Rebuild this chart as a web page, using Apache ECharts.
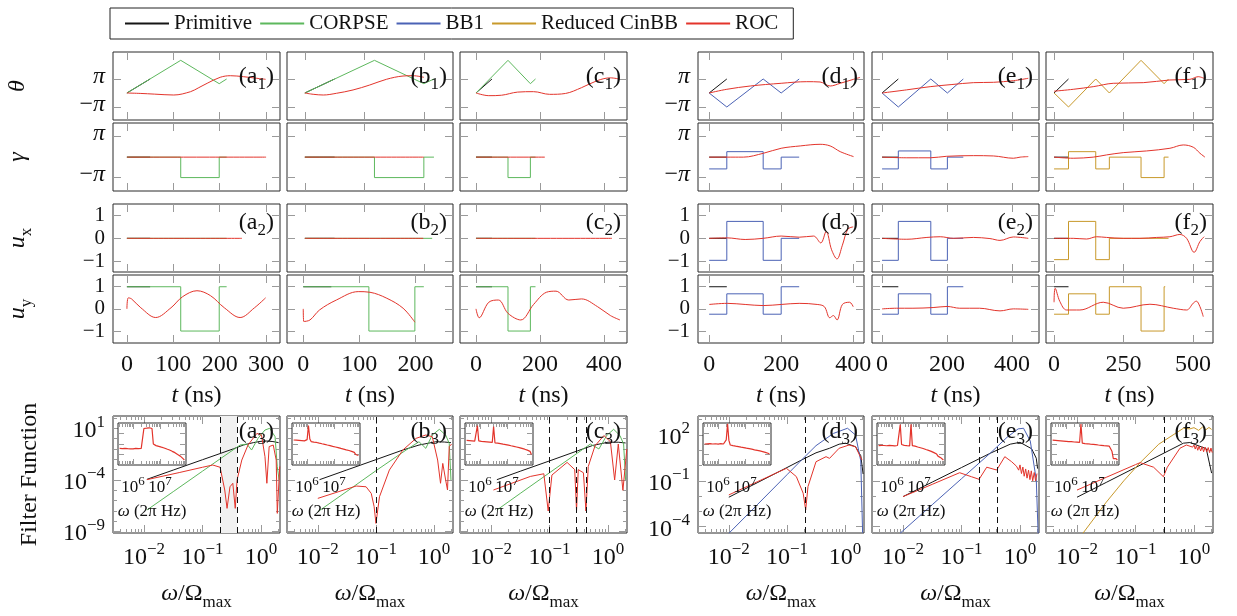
<!DOCTYPE html>
<html>
<head>
<meta charset="utf-8">
<script src="https://cdn.jsdelivr.net/npm/echarts@6/dist/echarts.min.js"></script>
<style>
html, body { margin: 0; padding: 0; background: #fff; }
#main { width: 1237px; height: 616px; }
</style>
</head>
<body>
<div id="main"></div>
<script>
const PI = Math.PI;

// ---------- time axes of the pulse panels (ns) ----------
const tRange = [[-30, 330], [-30, 249], [-50, 472], [-31, 430], [-31, 483], [-29, 572]];
const tTicks = [[0, 100, 200, 300], [0, 100, 200], [0, 200, 400], [0, 200, 400], [0, 200, 400], [0, 250, 500]];
const bUyRange = [-29, 267]; // (b) u_y panel has its own scale

// ---------- column a : CORPSE ----------
const aThetaPrim = [[0, 0], [50, PI]];
const aThetaCorpse = [[0, 0], [116, 7.33], [199, 2.09], [215, PI]];
const aThetaRoc = [[0, 0], [30, -0.1], [59, -0.25], [101, -0.45], [137, 0.29], [155, 1.2], [173, 2.18], [201, 3.52], [223, 3.88], [251, 3.66], [280, 3.3], [299, 3.07]];
const aGammaPrim = [[0, 0], [50, 0]];
const aGammaCorpse = [[0, 0], [116, -PI], [199, 0], [215, 0]];
const aGammaRoc = [[0, 0], [300, 0]];
const aUxPrim = [[0, 0], [50, 0]];
const aUxCorpse = [[0, 0], [215, 0]];
const aUxRoc = [[0, 0], [248, 0]];
const aUyPrim = [[0, 1], [50, 1]];
const aUyCorpse = [[0, 1], [116, -1], [199, 1], [215, 1]];
const aUyRoc = [[0, 0], [3, 0.5], [10, 0.45], [30, 0.05], [62, -0.39], [95, 0.05], [120, 0.55], [151, 0.82], [180, 0.6], [210, 0.05], [244, -0.39], [275, 0.05], [299, 0.5]];

// ---------- column b : CORPSE ----------
const bThetaPrim = [[0, 0], [50, PI]];
const bThetaCorpse = [[0, 0], [117, 7.33], [200, 2.09], [217, PI]];
const bThetaRoc = [[0, 0], [14, -0.29], [31, -0.45], [53, -0.07], [81, 0.68], [109, 1.79], [137, 3.07], [165, 3.81], [182, 3.88], [200, 3.52]];
const bGammaPrim = [[0, 0], [50, 0]];
const bGammaCorpse = [[0, 0], [117, -PI], [200, 0], [217, 0]];
const bGammaRoc = [[0, 0], [200, 0]];
const bUxPrim = [[0, 0], [50, 0]];
const bUxCorpse = [[0, 0], [214, 0]];
const bUxRoc = [[0, 0], [199, 0]];
const bUyPrim = [[0, 1], [50, 1]];
const bUyCorpse = [[0, 1], [117, -1], [199, 1], [215, 1]];
const bUyRoc = [[0, 0], [1, -0.57], [12, -0.5], [29, -0.05], [59, 0.4], [98, 0.78], [119, 0.75], [149, 0.48], [178, 0.03], [199, -0.6]];

// ---------- column c : CORPSE ----------
const cThetaPrim = [[0, 0], [50, PI]];
const cThetaCorpse = [[0, 0], [100, 7.33], [170, 2.09], [186, PI]];
const cThetaRoc = [[0, 0], [40, -0.6], [80, -0.5], [130, 0.2], [180, 0.3], [230, -0.3], [280, -0.1], [330, 1.2], [380, 2.8], [420, 3.4], [450, 3.1]];
const cGammaPrim = [[0, 0], [50, 0]];
const cGammaCorpse = [[0, 0], [100, -PI], [170, 0], [186, 0]];
const cGammaRoc = [[0, 0], [215, 0]];
const cUxPrim = [[0, 0], [50, 0]];
const cUxCorpse = [[0, 0], [186, 0]];
const cUxRoc = [[0, 0], [425, 0]];
const cUyPrim = [[0, 1], [50, 1]];
const cUyCorpse = [[0, 1], [100, -1], [170, 1], [186, 1]];
const cUyRoc = [[0, 0], [10, -0.4], [40, 0.3], [70, 0.4], [100, -0.2], [140, -0.5], [180, 0.2], [220, 0.75], [250, 0.8], [290, 0.4], [330, 0.45], [380, 0.1], [420, -0.3], [450, -0.5]];

// ---------- column d : BB1 ----------
const dThetaPrim = [[0, 0], [49, PI]];
const dThetaBB1 = [[0, 0], [49, -PI], [150, PI], [200, 0], [250, PI]];
const dThetaRoc = [[0, 0], [49, 0.83], [114, 1.57], [200, 2.18], [271, 2.54], [308, 2.47], [336, 1.57], [364, 2.18], [401, 3.07], [419, 3.5]];
const dGammaPrim = [[0, 0], [49, 0]];
const dGammaBB1 = [[0, -1.81], [49, 0.84], [150, -1.81], [200, 0], [250, 0]];
const dGammaRoc = [[0, 0], [95, 0], [151, 0.6], [200, 1.36], [253, 1.72], [308, 1.97], [336, 1.72], [364, 0.84], [401, 0.08]];
const dUxPrim = [[0, 0], [49, 0]];
const dUxBB1 = [[0, -0.96], [49, 0.74], [150, -0.96], [200, 0], [250, 0]];
const dUxRoc = [[0, 0], [50, 0.02], [100, -0.05], [150, 0], [200, 0.1], [250, 0.05], [290, 0.1], [310, -0.2], [325, 0.3], [340, -0.5], [355, -0.9], [370, -0.3], [385, 0.4], [400, 0.5]];
const dUyPrim = [[0, 1], [49, 1]];
const dUyBB1 = [[0, -0.24], [49, 0.68], [150, -0.24], [200, 1], [250, 1]];
const dUyRoc = [[0, 0.2], [50, 0.25], [100, 0.2], [150, 0.15], [200, 0.2], [250, 0.25], [300, 0.2], [320, 0.1], [335, -0.4], [345, -0.3], [355, -0.5], [370, 0.2], [390, 0.3], [400, 0.1]];

// ---------- column e : BB1 ----------
const eThetaPrim = [[0, 0], [50, PI]];
const eThetaBB1 = [[0, 0], [50, -PI], [150, PI], [201, 0], [250, PI]];
const eThetaRoc = [[0, 0], [75, 0.7], [148, 1.42], [215, 1.9], [281, 2.32], [343, 2.4], [404, 2.76], [450, 3.3]];
const eGammaPrim = [[0, 0], [50, 0]];
const eGammaBB1 = [[0, -1.81], [50, 0.95], [150, -1.81], [201, 0], [250, 0]];
const eGammaRoc = [[0, 0], [76, -0.1], [148, -0.1], [199, 0.13], [281, 0.23], [343, 0.18], [404, -0.17], [425, 0], [450, 0.08]];
const eUxPrim = [[0, 0], [50, 0]];
const eUxBB1 = [[0, -0.96], [50, 0.74], [150, -0.96], [201, 0], [250, 0]];
const eUxRoc = [[0, 0], [76, -0.04], [138, 0.04], [179, 0.07], [220, 0], [281, 0.04], [332, -0.01], [363, -0.09], [404, 0.06], [450, 0]];
const eUyPrim = [[0, 1], [50, 1]];
const eUyBB1 = [[0, -0.24], [50, 0.68], [150, -0.24], [201, 1], [250, 1]];
const eUyRoc = [[0, 0], [44, 0.03], [95, 0.03], [157, 0.06], [200, 0.11], [239, 0.03], [300, 0.03], [363, -0.09], [404, 0], [450, -0.02]];

// ---------- column f : Reduced CinBB ----------
const fThetaPrim = [[0, 0], [52, PI]];
const fThetaCin = [[0, 0], [52, -PI], [150, PI], [199, 0], [313, 7.33], [396, 2.09], [412, PI]];
const fThetaRoc = [[0, 0.4], [69, 0.83], [141, 1.42], [213, 2.18], [321, 2.32], [417, 2.92], [489, 3.07], [519, 3.66], [543, 3.2]];
const fGammaPrim = [[0, 0], [52, 0]];
const fGammaCin = [[0, -1.81], [52, 0.84], [150, -1.81], [199, 0], [313, -PI], [396, 0], [412, 0]];
const fGammaRoc = [[0, 0], [69, -0.17], [141, 0], [189, 0.34], [249, 0.69], [333, 0.95], [417, 1.36], [465, 1.87], [501, 1.52], [525, 0.6], [543, 0]];
const fUxPrim = [[0, 0], [52, 0]];
const fUxCin = [[0, -0.93], [52, 0.74], [150, -0.93], [199, 0], [412, 0]];
const fUxRoc = [[0, 0], [69, 0], [117, -0.03], [153, 0.07], [189, 0.04], [249, 0], [309, 0], [369, 0.04], [417, 0.07], [453, 0.17], [477, 0], [504, -0.61], [525, -0.14], [540, 0.07]];
const fUyPrim = [[0, 1], [52, 1]];
const fUyCin = [[0, -0.24], [52, 0.68], [150, -0.24], [199, 1], [313, -1], [396, 1], [400, 1]];
const fUyRoc = [[0, 0.3], [4, 0.93], [21, 0.33], [45, -0.05], [93, -0.05], [177, 0.3], [249, 0.03], [345, 0.21], [429, 0.03], [477, -0.05], [501, 0.26], [512, 0.35], [525, 0.1], [537, -0.35]];

// ---------- filter functions, [omega / Omega_max, F] ----------
const aFFPrim = [[0.0112, 1.15e-4], [0.0316, 9.1e-4], [0.1, 9.1e-3], [0.2, 0.036], [0.34, 0.105], [0.5, 0.24], [0.74, 0.41], [1.0, 0.55], [1.26, 0.59], [1.6, 0.52], [2.0, 0.41]];
const aFFCorpse = [[0.0112, 1.23e-7], [0.0316, 7.4e-6], [0.1, 7.1e-4], [0.2, 0.011], [0.44, 0.24], [0.575, 0.3], [0.69, 0.079], [0.89, 1.07], [1.17, 6.8], [1.41, 10], [1.74, 1.55], [1.9, 1.9e-3], [2.04, 1e-4]];
const aFFRoc = [[0.0112, 1.07e-4], [0.04, 5.2e-4], [0.1, 1.7e-3], [0.15, 2.8e-3], [0.2, 1.7e-3], [0.24, 1.07e-5], [0.263, 1.8e-7], [0.295, 2.2e-5], [0.33, 4.8e-5], [0.363, 1.8e-7], [0.39, 1e-4], [0.47, 8.5e-3], [0.6, 0.24], [0.85, 3.2], [1.02, 2.2], [1.17, 0.018], [1.26, 4.8e-5], [1.38, 0.17], [1.62, 0.24], [1.82, 8.5e-3], [1.9, 5.9e-8], [2.09, 2e-3]];
const bFFPrim = [[0.0107, 1.07e-4], [0.0316, 9.3e-4], [0.1, 9.3e-3], [0.29, 0.079], [0.55, 0.24], [1.07, 0.5], [1.5, 0.47], [1.95, 0.41]];
const bFFCorpse = [[0.01, 8.5e-8], [0.0316, 7.9e-6], [0.1, 7.9e-4], [0.33, 0.079], [0.55, 0.5], [0.72, 0.115], [0.93, 2.24], [1.23, 7.9], [1.58, 2.24], [1.82, 0.35], [1.95, 1e-4]];
const bFFRoc = [[0.01, 1.66e-6], [0.0457, 2.6e-5], [0.0676, 2.2e-5], [0.083, 5e-6], [0.093, 2.6e-7], [0.1, 6.3e-9], [0.115, 2.4e-6], [0.17, 9.1e-4], [0.29, 0.079], [0.49, 1.07], [0.72, 2.24], [0.93, 1.55], [1.15, 8.5e-3], [1.29, 4.8e-5], [1.41, 4e-3], [1.58, 1e-4], [1.7, 1.07e-5], [1.82, 0.17], [2.0, 0.3]];
const cFFPrim = [[0.0126, 1.07e-4], [0.0316, 7e-4], [0.1, 7e-3], [0.3, 0.065], [0.55, 0.22], [1.0, 0.45], [1.5, 0.45], [2.0, 0.38]];
const cFFCorpse = [[0.0126, 1.23e-7], [0.0316, 5e-6], [0.1, 5e-4], [0.3, 0.04], [0.5, 0.3], [0.7, 0.1], [0.95, 2], [1.25, 8], [1.6, 2], [1.85, 0.3], [2.0, 1e-4]];
const cFFRoc = [[0.011, 1.07e-5], [0.047, 2.2e-4], [0.08, 4e-4], [0.095, 1e-7], [0.11, 3e-4], [0.2, 5e-3], [0.27, 1e-3], [0.29, 1e-7], [0.31, 1e-3], [0.38, 5e-4], [0.42, 1e-7], [0.46, 2e-3], [0.6, 0.2], [0.85, 2], [1.1, 0.5], [1.3, 1e-4], [1.5, 0.3], [1.8, 1e-5], [2.1, 0.1]];
const dFFPrim = [[0.01, 8.5e-3], [0.0316, 0.079], [0.1, 0.74], [0.178, 2.3], [0.316, 6.8], [0.54, 13.5], [0.79, 25], [1.02, 29], [1.51, 17], [1.86, 4.4], [2.04, 0.28]];
const dFFBB1 = [[0.01, 3.7e-5], [0.0316, 3e-3], [0.1, 0.25], [0.178, 2.3], [0.316, 20], [0.63, 126], [1.1, 275], [1.51, 100], [1.86, 2], [2.0, 4e-5]];
const dFFRoc = [[0.01, 0.012], [0.0316, 0.091], [0.098, 0.66], [0.145, 0.19], [0.19, 0.0155], [0.21, 1.26e-3], [0.23, 0.042], [0.316, 1.78], [0.47, 3.8], [0.54, 2.95], [0.79, 13.5], [1.17, 22], [1.51, 17], [1.95, 2.3]];
const eFFPrim = [[0.01, 9.3e-3], [0.0316, 0.083], [0.1, 0.74], [0.316, 6.6], [0.68, 25], [1.0, 33], [1.58, 12.6], [1.9, 3], [2.0, 0.63]];
const eFFBB1 = [[0.0089, 3.7e-5], [0.0316, 2.75e-3], [0.1, 0.138], [0.316, 6.9], [0.6, 70], [0.93, 250], [1.15, 275], [1.5, 40], [1.9, 0.115], [2.04, 3.7e-5]];
const eFFRoc = [[0.01, 9.3e-3], [0.0316, 0.059], [0.093, 0.34], [0.148, 0.186], [0.2, 0.126], [0.27, 0.78], [0.4, 0.51], [0.55, 3.8], [0.72, 1.78], [0.87, 0.91], [0.95, 0.5], [1.0, 1.1], [1.06, 0.3], [1.12, 0.8], [1.18, 0.2], [1.25, 0.6], [1.32, 0.15], [1.4, 0.5], [1.48, 0.12], [1.56, 0.45], [1.65, 0.1], [1.75, 0.35], [1.85, 0.1], [1.95, 0.3]];
const fFFPrim = [[0.01, 8.5e-3], [0.0316, 0.079], [0.1, 0.74], [0.316, 6.9], [0.66, 29], [0.85, 32], [1.62, 12.6], [2.0, 0.32]];
const fFFCin = [[0.0126, 3.7e-5], [0.0316, 4e-3], [0.063, 0.1], [0.12, 1.55], [0.25, 25], [0.66, 275], [0.85, 250], [1.0, 300], [1.2, 200], [1.4, 330], [1.6, 220], [1.8, 310], [2.0, 230]];
const fFFRoc = [[0.01, 0.025], [0.0316, 0.17], [0.1, 1.15], [0.12, 1.55], [0.204, 0.78], [0.3, 0.186], [0.35, 0.78], [0.575, 13.5], [0.74, 22], [0.95, 16], [1.0, 22], [1.05, 12], [1.1, 20], [1.16, 10], [1.22, 18], [1.3, 9], [1.38, 17], [1.46, 8], [1.55, 16], [1.65, 8], [1.75, 15], [1.85, 7], [1.95, 14], [2.05, 7]];

// dashed markers (omega / Omega_max)
const aDash = [0.2, 0.39], aShade = [0.2, 0.39];
const bDash = [0.1];
const cDash = [0.1, 0.29, 0.42];
const dDash = [0.21];
const eDash = [0.2, 0.41];
const fDash = [0.31];

// ---------- noise spectra in the insets (Hz, arb. units) ----------
const insetFreq = [3.16e5, 3.55e5, 3.98e5, 4.47e5, 5.01e5, 5.62e5, 6.31e5, 7.08e5, 7.94e5, 8.91e5,
  1e6, 1.12e6, 1.26e6, 1.41e6, 1.58e6, 1.78e6, 2e6, 2.24e6, 2.51e6, 2.82e6,
  3.16e6, 3.55e6, 3.98e6, 4.47e6, 5.01e6, 5.62e6, 6.31e6, 7.08e6, 7.94e6, 8.91e6,
  1e7, 1.12e7, 1.26e7, 1.41e7, 1.58e7, 1.78e7, 2e7, 2.24e7, 2.51e7, 2.82e7,
  3.16e7, 3.55e7, 3.98e7, 4.47e7, 5.01e7, 5.62e7, 6.31e7, 7.08e7, 7.94e7];
const insetA = [38, 34, 37, 35, 39, 33, 36, 38, 35, 37, 34, 36, 39, 35, 37, 33, 38, 36, 3000, 4500, 3200, 4800, 3500, 4200, 3000, 100, 90, 70, 85, 60, 72, 50, 58, 42, 48, 33, 40, 27, 32, 20, 24, 15, 17, 10, 12, 7, 8, 4, 3];
const insetB = [240, 200, 230, 190, 220, 180, 210, 175, 200, 190, 260, 5800, 300, 170, 130, 150, 115, 140, 100, 120, 90, 105, 78, 92, 68, 80, 58, 70, 50, 60, 43, 52, 37, 45, 32, 38, 27, 33, 23, 28, 19, 24, 16, 20, 13, 16, 10, 12, 8];
const insetC = [220, 180, 210, 170, 200, 160, 190, 150, 5500, 200, 150, 180, 140, 170, 130, 160, 125, 150, 120, 140, 4500, 130, 105, 120, 95, 110, 85, 98, 75, 88, 66, 78, 58, 68, 50, 60, 43, 52, 37, 45, 32, 38, 27, 32, 22, 26, 17, 20, 10];
const insetD = [100, 85, 105, 90, 110, 80, 100, 88, 106, 84, 98, 90, 108, 86, 100, 120, 250, 8300, 220, 80, 95, 70, 85, 62, 75, 56, 68, 50, 60, 45, 54, 40, 48, 36, 43, 32, 38, 28, 34, 25, 30, 22, 26, 19, 22, 16, 18, 13, 11];
const insetE = [70, 60, 75, 58, 72, 55, 68, 62, 74, 57, 70, 60, 66, 58, 72, 90, 7000, 90, 65, 75, 58, 70, 55, 66, 7500, 70, 55, 62, 45, 52, 38, 44, 32, 37, 26, 30, 21, 25, 17, 20, 13, 15, 10, 11, 7, 8, 5, 4, 3];
const insetF = [230, 190, 220, 180, 210, 170, 200, 160, 190, 155, 180, 150, 170, 140, 165, 135, 155, 128, 150, 122, 140, 8000, 120, 135, 110, 128, 105, 120, 98, 112, 92, 105, 86, 98, 80, 92, 75, 86, 70, 80, 66, 75, 62, 70, 20, 4, 3, 4, 3];

// ---------- axis ticks ----------
const ffXMajor = [0.01, 0.1, 1];
const ffXMinor = [0.003, 0.004, 0.005, 0.006, 0.007, 0.008, 0.009, 0.02, 0.03, 0.04, 0.05, 0.06, 0.07, 0.08, 0.09, 0.2, 0.3, 0.4, 0.5, 0.6, 0.7, 0.8, 0.9, 2];
const ffYMajorA = [1e-9, 1e-4, 10], ffYMinorA = [1e-8, 1e-7, 1e-6, 1e-5, 1e-3, 1e-2, 0.1, 1, 100];
const ffYMajorD = [1e-4, 0.1, 100], ffYMinorD = [1e-3, 1e-2, 1, 10, 1000];
const insetXMajor = [1e6, 1e7];
const insetXMinor = [3e5, 4e5, 5e5, 6e5, 7e5, 8e5, 9e5, 2e6, 3e6, 4e6, 5e6, 6e6, 7e6, 8e6, 9e6, 2e7, 3e7, 4e7, 5e7, 6e7, 7e7, 8e7, 9e7];
const insetYTicks = [10, 100, 1000];

// ---------- layout & style ----------
const FONT = 'Liberation Serif';
const INK = '#111';
const TICK = '#9a9a9a';
const colX = [[113, 280], [287, 453], [460, 627], [698, 864], [872, 1039], [1046, 1213]];
const rowY = { theta: [52, 120], gamma: [123, 191], ux: [204, 272], uy: [275, 343], ff: [416, 533] };
const rowRange = { theta: [-6.06, 9.2], gamma: [-5.2, 5.24], ux: [-1.47, 1.5], uy: [-1.54, 1.53] };
const rowTicks = { theta: [-PI, PI], gamma: [-PI, PI], ux: [-1, 0, 1], uy: [-1, 0, 1] };
const ffXLim = [-2.53, 0.325];            // log10 limits
const ffYLimA = [-9.13, 2.19], ffYLimD = [-4.41, 3.24];
const insetXLim = [5.44, 7.96], insetYLim = [0, 4];
const colors = { 'Primitive': '#151515', 'CORPSE': '#5db85d', 'BB1': '#4b62b5', 'Reduced CinBB': '#c8992b', 'ROC': '#e3342b' };

const rich = {
  mi: { fontFamily: FONT, fontSize: 24, fontStyle: 'italic', color: INK, verticalAlign: 'bottom', padding: [0, 0, 5, 0] },
  mr: { fontFamily: FONT, fontSize: 24, color: INK, verticalAlign: 'bottom', padding: [0, 0, 5, 0] },
  sub: { fontFamily: FONT, fontSize: 17, color: INK, verticalAlign: 'bottom' },
  b: { fontFamily: FONT, fontSize: 24, color: INK, verticalAlign: 'bottom' },
  sup: { fontFamily: FONT, fontSize: 17, color: INK, verticalAlign: 'bottom', padding: [0, 0, 12, 0] },
  b2: { fontFamily: FONT, fontSize: 17, color: INK, verticalAlign: 'bottom' },
  sup2: { fontFamily: FONT, fontSize: 13, color: INK, verticalAlign: 'bottom', padding: [0, 0, 8, 0] },
  mi2: { fontFamily: FONT, fontSize: 17, fontStyle: 'italic', color: INK }
};

const minus = (n) => (n < 0 ? '\u2212' + (-n) : String(n));
const powFmt = (v) => '{b|10}{sup|' + minus(Math.round(v)) + '}';
const powFmtSmall = (v) => '{b2|10}{sup2|' + minus(Math.round(v)) + '}';
const piFmt = (v) => (v > 0 ? '{mi|\u03c0}' : '{mr|\u2212}{mi|\u03c0}');
const unitFmt = (v) => minus(v);
const rowFmt = { theta: piFmt, gamma: piFmt, ux: unitFmt, uy: unitFmt };
const rowTitle = { theta: '{mi|\u03b8}', gamma: '{mi|\u03b3}', ux: '{mi|u}{sub|x}', uy: '{mi|u}{sub|y}' };

const pulseCols = [
  { tag: 'a', theta: [['Primitive', aThetaPrim], ['CORPSE', aThetaCorpse], ['ROC', aThetaRoc]], gamma: [['Primitive', aGammaPrim], ['CORPSE', aGammaCorpse], ['ROC', aGammaRoc]], ux: [['Primitive', aUxPrim], ['CORPSE', aUxCorpse], ['ROC', aUxRoc]], uy: [['Primitive', aUyPrim], ['CORPSE', aUyCorpse], ['ROC', aUyRoc]] },
  { tag: 'b', uyRange: bUyRange, theta: [['Primitive', bThetaPrim], ['CORPSE', bThetaCorpse], ['ROC', bThetaRoc]], gamma: [['Primitive', bGammaPrim], ['CORPSE', bGammaCorpse], ['ROC', bGammaRoc]], ux: [['Primitive', bUxPrim], ['CORPSE', bUxCorpse], ['ROC', bUxRoc]], uy: [['Primitive', bUyPrim], ['CORPSE', bUyCorpse], ['ROC', bUyRoc]] },
  { tag: 'c', theta: [['Primitive', cThetaPrim], ['CORPSE', cThetaCorpse], ['ROC', cThetaRoc]], gamma: [['Primitive', cGammaPrim], ['CORPSE', cGammaCorpse], ['ROC', cGammaRoc]], ux: [['Primitive', cUxPrim], ['CORPSE', cUxCorpse], ['ROC', cUxRoc]], uy: [['Primitive', cUyPrim], ['CORPSE', cUyCorpse], ['ROC', cUyRoc]] },
  { tag: 'd', theta: [['Primitive', dThetaPrim], ['BB1', dThetaBB1], ['ROC', dThetaRoc]], gamma: [['Primitive', dGammaPrim], ['BB1', dGammaBB1], ['ROC', dGammaRoc]], ux: [['Primitive', dUxPrim], ['BB1', dUxBB1], ['ROC', dUxRoc]], uy: [['Primitive', dUyPrim], ['BB1', dUyBB1], ['ROC', dUyRoc]] },
  { tag: 'e', theta: [['Primitive', eThetaPrim], ['BB1', eThetaBB1], ['ROC', eThetaRoc]], gamma: [['Primitive', eGammaPrim], ['BB1', eGammaBB1], ['ROC', eGammaRoc]], ux: [['Primitive', eUxPrim], ['BB1', eUxBB1], ['ROC', eUxRoc]], uy: [['Primitive', eUyPrim], ['BB1', eUyBB1], ['ROC', eUyRoc]] },
  { tag: 'f', theta: [['Primitive', fThetaPrim], ['Reduced CinBB', fThetaCin], ['ROC', fThetaRoc]], gamma: [['Primitive', fGammaPrim], ['Reduced CinBB', fGammaCin], ['ROC', fGammaRoc]], ux: [['Primitive', fUxPrim], ['Reduced CinBB', fUxCin], ['ROC', fUxRoc]], uy: [['Primitive', fUyPrim], ['Reduced CinBB', fUyCin], ['ROC', fUyRoc]] }
];

const ffCols = [
  { series: [['Primitive', aFFPrim], ['CORPSE', aFFCorpse], ['ROC', aFFRoc]], dash: aDash, shade: aShade, inset: insetA },
  { series: [['Primitive', bFFPrim], ['CORPSE', bFFCorpse], ['ROC', bFFRoc]], dash: bDash, inset: insetB },
  { series: [['Primitive', cFFPrim], ['CORPSE', cFFCorpse], ['ROC', cFFRoc]], dash: cDash, inset: insetC },
  { series: [['Primitive', dFFPrim], ['BB1', dFFBB1], ['ROC', dFFRoc]], dash: dDash, inset: insetD },
  { series: [['Primitive', eFFPrim], ['BB1', eFFBB1], ['ROC', eFFRoc]], dash: eDash, inset: insetE },
  { series: [['Primitive', fFFPrim], ['Reduced CinBB', fFFCin], ['ROC', fFFRoc]], dash: fDash, inset: insetF }
];

const opt = {
  animation: false,
  backgroundColor: '#fff',
  legend: {
    left: 110, top: 8, padding: [5, 15], itemGap: 8, itemWidth: 44, itemHeight: 2, icon: 'rect',
    borderColor: '#222', borderWidth: 1, selectedMode: false,
    textStyle: { fontFamily: FONT, fontSize: 21, color: INK },
    data: ['Primitive', 'CORPSE', 'BB1', 'Reduced CinBB', 'ROC']
  },
  grid: [], xAxis: [], yAxis: [], series: [], graphic: []
};

function addAxis(kind, gi, pos, range, ticks, len, z, label, name) {
  const a = {
    type: 'value', gridIndex: gi, position: pos, min: range[0], max: range[1], z: z,
    axisLine: { show: false, onZero: false }, splitLine: { show: false },
    axisTick: { show: ticks.length > 0, inside: true, length: len, customValues: ticks, lineStyle: { color: TICK, width: 1 } },
    axisLabel: { show: false }
  };
  if (label) {
    a.axisLabel = { show: true, customValues: label.values, formatter: label.fmt, margin: label.margin || 8,
      showMinLabel: true, showMaxLabel: true, hideOverlap: false,
      fontFamily: FONT, fontSize: label.size || 24, color: INK, rich: rich };
    if (label.lineHeight) a.axisLabel.lineHeight = label.lineHeight;
  }
  if (name) {
    a.name = name.text; a.nameLocation = 'middle'; a.nameGap = name.gap;
    if (name.rotate) a.nameRotate = name.rotate;
    a.nameTextStyle = { fontFamily: FONT, fontSize: name.size || 24, color: INK, rich: rich };
  }
  opt[kind].push(a);
  return opt[kind].length - 1;
}

function addPanel(box, xr, yr, cfg) {
  const gi = opt.grid.length;
  const z = cfg.z || 0;
  opt.grid.push({ left: box[0], top: box[1], width: box[2] - box[0], height: box[3] - box[1], show: true,
    borderColor: '#2b2b2b', borderWidth: 1, backgroundColor: cfg.bg || 'rgba(0,0,0,0)', z: z });
  const xi = addAxis('xAxis', gi, 'bottom', xr, cfg.xTicks, cfg.len, z, cfg.xLabel, cfg.xName);
  addAxis('xAxis', gi, 'top', xr, cfg.xTicks, cfg.len, z);
  const yi = addAxis('yAxis', gi, 'left', yr, cfg.yTicks, cfg.len, z, cfg.yLabel, cfg.yName);
  addAxis('yAxis', gi, 'right', yr, cfg.yTicks, cfg.len, z);
  if (cfg.xMinor) {
    addAxis('xAxis', gi, 'bottom', xr, cfg.xMinor, cfg.minorLen, z);
    addAxis('xAxis', gi, 'top', xr, cfg.xMinor, cfg.minorLen, z);
  }
  if (cfg.yMinor) {
    addAxis('yAxis', gi, 'left', yr, cfg.yMinor, cfg.minorLen, z);
    addAxis('yAxis', gi, 'right', yr, cfg.yMinor, cfg.minorLen, z);
  }
  return { xi: xi, yi: yi };
}

function addLine(ax, name, data, o) {
  const color = colors[name] || colors.ROC;
  const s = {
    type: 'line', name: name, xAxisIndex: ax.xi, yAxisIndex: ax.yi, data: data,
    showSymbol: false, symbol: 'none', silent: true, clip: true,
    step: o.step || false, smooth: o.smooth || false,
    lineStyle: { width: o.width || 1, color: color }, itemStyle: { color: color }, z: o.z || 2
  };
  opt.series.push(s);
}

function addTag(x, y, letter, k) {
  opt.graphic.push({ type: 'text', x: x, y: y, z: 20, silent: true,
    style: { text: '{mr|(' + letter + '}{sub|' + k + '}{mr|)}', rich: rich, align: 'right', verticalAlign: 'middle',
      textAlign: 'right', textVerticalAlign: 'middle', fill: INK } });
}

// ---------- pulse panels ----------
['theta', 'gamma', 'ux', 'uy'].forEach(function (row) {
  pulseCols.forEach(function (col, c) {
    const box = [colX[c][0], rowY[row][0], colX[c][1], rowY[row][1]];
    const xr = (row === 'uy' && col.uyRange) ? col.uyRange : tRange[c];
    const labelled = (c === 0 || c === 3);
    const unitRow = (row === 'ux' || row === 'uy');
    const ax = addPanel(box, xr, rowRange[row], {
      xTicks: tTicks[c], yTicks: rowTicks[row], len: 8,
      xLabel: row === 'uy' ? { values: tTicks[c], fmt: (v) => String(v), margin: 10 } : null,
      xName: row === 'uy' ? { text: '{mi|t}{mr| (ns)}', gap: 41 } : null,
      yLabel: labelled ? { values: rowTicks[row], fmt: rowFmt[row], lineHeight: unitRow ? 14 : undefined, size: unitRow ? 21 : 24 } : null,
      yName: c === 0 ? { text: rowTitle[row], gap: 78, rotate: 90 } : null
    });
    col[row].forEach(function (sd) {
      const isRoc = sd[0] === 'ROC';
      addLine(ax, sd[0], sd[1], { step: (!isRoc && row !== 'theta') ? 'end' : false, smooth: isRoc ? 0.35 : false });
    });
    if (row === 'theta') addTag(box[2] - 6, box[1] + 27, col.tag, 1);
    if (row === 'ux') addTag(box[2] - 6, box[1] + 21, col.tag, 2);
  });
});

// ---------- filter function panels ----------
const lg = (v) => Math.log10(v);
ffCols.forEach(function (col, c) {
  const box = [colX[c][0], rowY.ff[0], colX[c][1], rowY.ff[1]];
  const upper = c < 3;
  const yMajor = upper ? ffYMajorA : ffYMajorD;
  const ax = addPanel(box, ffXLim, upper ? ffYLimA : ffYLimD, {
    xTicks: ffXMajor.map(lg), xMinor: ffXMinor.map(lg), yTicks: yMajor.map(lg),
    yMinor: (upper ? ffYMinorA : ffYMinorD).map(lg), len: 8, minorLen: 4,
    xLabel: { values: ffXMajor.map(lg), fmt: powFmt, margin: 8 },
    xName: { text: '{mi|\u03c9}{mr|/\u03a9}{sub|max}', gap: 49 },
    yLabel: (c === 0 || c === 3) ? { values: yMajor.map(lg), fmt: powFmt } : null,
    yName: c === 0 ? { text: 'Filter Function', gap: 71, rotate: 90 } : null
  });
  // shaded band + dashed markers carried by a data-less helper series
  const helper = { type: 'line', name: 'marks', xAxisIndex: ax.xi, yAxisIndex: ax.yi, data: [], silent: true, z: 1,
    markLine: { silent: true, symbol: ['none', 'none'], animation: false, label: { show: false },
      lineStyle: { type: [6, 4], color: '#111', width: 1 }, data: col.dash.map(function (v) { return { xAxis: lg(v) }; }) } };
  if (col.shade) {
    helper.markArea = { silent: true, itemStyle: { color: '#f1f1f1' }, data: [[{ xAxis: lg(col.shade[0]) }, { xAxis: lg(col.shade[1]) }]] };
  }
  opt.series.push(helper);
  col.series.forEach(function (sd) {
    addLine(ax, sd[0], sd[1].map(function (p) { return [lg(p[0]), lg(p[1])]; }), {});
  });
  addTag(box[2] - 6, box[1] + 18, pulseCols[c].tag, 3);

  // inset: noise spectrum
  const ib = [box[0] + 5, box[1] + 7, box[0] + 73, box[1] + 49];
  const iax = addPanel(ib, insetXLim, insetYLim, {
    bg: '#fff', z: 3, xTicks: insetXMajor.map(lg), xMinor: insetXMinor.map(lg), yTicks: insetYTicks.map(lg),
    len: 6, minorLen: 4,
    xLabel: { values: insetXMajor.map(lg), fmt: powFmtSmall, margin: 10, size: 17 },
    xName: { text: '{mi2|\u03c9} (2\u03c0 Hz)', gap: 38, size: 17 }
  });
  addLine(iax, 'PSD', insetFreq.map(function (f, i) { return [lg(f), lg(col.inset[i])]; }), { z: 4, width: 1.2 });
});

const chart = echarts.init(document.getElementById('main'));
chart.setOption(opt);
</script>
</body>
</html>
